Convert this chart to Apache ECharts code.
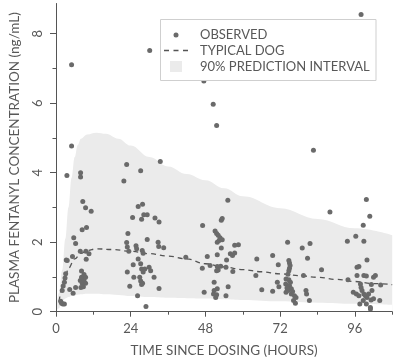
<!DOCTYPE html>
<html>
<head>
<meta charset="utf-8">
<script src="https://cdn.jsdelivr.net/npm/echarts@6/dist/echarts.min.js"></script>
<style>
html,body{margin:0;padding:0;background:#fff;}
#chart{width:400px;height:364px;}
</style>
</head>
<body>
<div id="chart"></div>
<script>
// ---------- data ----------
var xTickLabels = [0, 24, 48, 72, 96];
var xMinorTicks = [12, 36, 60, 84, 108];
var yTickLabels = [0, 2, 4, 6, 8];
var yMinorTicks = [1, 3, 5, 7];

// observed concentrations: [hours, ng/mL]
var observed = [
  [1.5,0.3],[1.8,0.24],[2.2,0.22],[2.7,0.22],[2.0,0.61],[2.3,0.74],[2.7,0.85],[2.9,0.97],[3.1,1.09],[3.3,1.49],
  [3.6,1.47],[3.5,3.92],[4.4,0.64],[5.0,4.77],[5.0,7.11],[5.3,1.59],[5.5,0.53],[5.7,2.13],[6.3,1.96],[6.3,0.7],
  [7.8,1.74],[7.8,0.9],[7.9,4.0],[7.9,3.88],[8.0,0.7],[8.2,1.17],[8.2,0.99],[8.4,2.36],[8.4,0.82],[8.6,3.17],
  [8.8,0.72],[9.0,1.07],[9.0,0.92],[9.5,2.99],[9.5,0.99],[9.5,0.82],[9.6,1.74],[9.7,1.51],[9.8,2.42],[10.6,1.67],
  [11.3,2.89],
  [21.8,3.76],[22.7,4.24],[22.7,1.99],[22.9,1.86],[22.9,1.14],[23.1,2.25],[23.4,1.74],[23.7,0.73],[24.6,2.71],
  [24.8,1.35],[25.0,0.99],[25.7,1.9],[25.9,1.81],[26.2,0.46],[26.4,3.03],[26.4,1.52],[26.9,0.99],[27.2,4.06],
  [27.2,1.38],[27.2,0.88],[27.5,2.66],[27.5,1.23],[27.5,0.78],[27.7,1.76],[27.8,3.09],[27.8,0.82],[28.0,1.68],
  [28.0,1.14],[28.2,2.79],[28.5,1.23],[28.9,0.15],[29.3,2.79],[29.3,2.08],[29.9,1.28],[30.1,7.52],[30.4,1.18],
  [31.5,0.99],[31.8,2.7],[32.8,2.0],[33.0,1.88],[33.1,2.58],[33.1,0.67],[33.5,4.32],[34.6,1.84],
  [41.7,1.57],
  [47.0,1.25],[47.1,2.48],[47.5,6.64],[47.6,0.56],[48.6,1.59],[49.5,1.33],[50.5,5.97],[50.6,0.51],[50.8,0.85],
  [50.8,0.61],[51.1,2.32],[51.3,0.41],[51.6,5.36],[51.6,2.25],[51.6,1.18],[51.6,0.49],[51.8,2.0],[51.8,1.64],
  [51.8,1.3],[51.8,0.66],[52.1,2.2],[52.1,1.2],[52.4,2.05],[52.7,2.13],[52.9,1.31],[53.1,2.63],[53.1,1.83],
  [53.4,2.68],[53.4,2.07],[54.6,1.28],[54.6,0.46],[54.8,1.49],[55.2,3.21],[55.3,0.72],[56.0,1.67],[56.7,1.62],
  [56.8,1.16],[57.4,1.91],[57.4,1.69],[58.6,1.93],
  [64.2,1.04],[64.5,1.52],[66.1,0.63],[69.6,1.62],[69.6,0.59],[71.1,0.85],[71.4,1.35],[71.6,0.72],
  [73.8,0.8],[73.9,0.94],[73.9,0.56],[74.4,2.0],[74.5,0.61],[74.8,1.47],[74.8,1.18],[74.8,0.92],[75.0,1.4],
  [75.0,1.25],[75.0,0.75],[75.2,1.33],[75.6,0.66],[75.6,0.51],[76.3,0.32],[76.6,0.46],[76.9,0.24],[77.1,0.41],
  [74.5,1.08],[75.3,0.85],[76.0,0.58],[74.2,0.68],
  [79.1,1.83],[79.5,1.04],[80.3,0.61],[80.5,0.51],[80.8,1.54],[81.4,0.32],[81.6,1.96],[82.7,4.65],[85.3,1.21],
  [88.0,2.87],
  [93.6,2.03],[93.8,0.92],[95.5,0.56],[96.3,2.17],[96.5,0.51],[96.7,1.28],[96.7,1.04],[97.3,1.3],[97.3,0.46],
  [97.6,0.22],[97.8,0.8],[98.0,0.7],[98.0,8.55],[98.3,0.61],[98.7,2.49],[98.7,0.32],[98.9,2.03],[98.9,1.04],
  [98.9,0.51],[99.4,0.46],[99.7,3.23],[99.7,1.03],[99.7,0.22],[99.9,1.49],[99.9,0.41],[100.4,0.51],[100.8,2.75],
  [101.0,0.12],[101.0,0.08],[101.2,0.34],[101.3,0.78],[101.5,0.61],[102.0,0.99],[102.0,0.37],[102.6,1.04],
  [104.0,0.32],[104.3,0.77]
];

// typical dog prediction
var typicalTime = [1,2,3,4,6,8,10,13,18,24,30,36,42,48,54,60,66,72,78,84,90,96,102,108];
var typicalConc = [0.3,0.7,1.0,1.25,1.52,1.68,1.76,1.81,1.79,1.74,1.67,1.6,1.52,1.38,1.29,1.21,1.15,1.09,1.04,0.99,0.93,0.87,0.81,0.78];

// 90% prediction interval
var bandTime  = [0,1,2,3,4,5,6,7,8,10,13,16,20,24,30,36,42,48,54,60,72,84,96,108];
var bandUpper = [0,0.55,1.2,2.1,3.0,3.85,4.45,4.8,4.98,5.1,5.15,5.12,4.98,4.78,4.45,4.18,3.96,3.78,3.55,3.32,2.98,2.67,2.4,2.2];
var bandLower = [0,0.1,0.3,0.38,0.42,0.45,0.47,0.49,0.5,0.52,0.52,0.5,0.48,0.45,0.42,0.4,0.39,0.38,0.36,0.34,0.3,0.26,0.23,0.2];

// ---------- chart ----------
function zip(a, b) { return a.map(function (v, i) { return [v, b[i]]; }); }

var FONT = 'Lato';
var TXT = '#585858';
var AX = '#555';

var chart = echarts.init(document.getElementById('chart'), null, {renderer: 'canvas'});

var axisBaseX = {
  type: 'value', min: 0, max: 108, gridIndex: 0, position: 'bottom', offset: 0,
  splitLine: {show: false}
};
var axisBaseY = {
  type: 'value', min: 0, max: 8.87, gridIndex: 0, position: 'left', offset: 0,
  splitLine: {show: false}
};

var option = {
  animation: false,
  backgroundColor: '#fff',
  textStyle: {fontFamily: FONT},
  grid: {left: 53.5, right: 7.8, top: 3.5, bottom: 52.3, containLabel: false},
  xAxis: [
    Object.assign({}, axisBaseX, {
      z: 10,
      name: 'TIME SINCE DOSING (HOURS)',
      nameLocation: 'middle',
      nameGap: 31.5,
      nameTextStyle: {fontFamily: FONT, fontSize: 13.5, color: TXT},
      axisLine: {show: true, lineStyle: {color: AX, width: 1}},
      axisTick: {show: true, customValues: xTickLabels, length: 5, lineStyle: {color: AX, width: 1}},
      axisLabel: {show: true, customValues: xTickLabels, margin: 11, fontFamily: FONT, fontSize: 13, color: TXT}
    }),
    Object.assign({}, axisBaseX, {
      z: 10,
      axisLine: {show: false},
      axisTick: {show: true, customValues: xMinorTicks, length: 3, lineStyle: {color: AX, width: 1}},
      axisLabel: {show: false}
    })
  ],
  yAxis: [
    Object.assign({}, axisBaseY, {
      z: 10,
      name: 'PLASMA FENTANYL CONCENTRATION (ng/mL)',
      nameLocation: 'middle',
      nameGap: 34,
      nameRotate: 90,
      nameTextStyle: {fontFamily: FONT, fontSize: 13.5, color: TXT},
      axisLine: {show: true, lineStyle: {color: AX, width: 1}},
      axisTick: {show: true, customValues: yTickLabels, length: 6, lineStyle: {color: AX, width: 1}},
      axisLabel: {show: true, customValues: yTickLabels, rotate: 90, margin: 12, fontFamily: FONT, fontSize: 13, color: TXT}
    }),
    Object.assign({}, axisBaseY, {
      z: 10,
      axisLine: {show: false},
      axisTick: {show: true, customValues: yMinorTicks, length: 3.5, lineStyle: {color: AX, width: 1}},
      axisLabel: {show: false}
    })
  ],
  legend: [
    {
      data: ['OBSERVED'], orient: 'vertical', left: 173.5, top: 28.5, padding: 0, z: 20,
      itemWidth: 5, itemHeight: 5, icon: 'circle',
      textStyle: {fontFamily: FONT, fontSize: 13, color: TXT, lineHeight: 12, padding: [0, 0, 0, 16.5]},
      selectedMode: false
    },
    {
      data: ['TYPICAL DOG'], orient: 'vertical', left: 164, top: 44, padding: 0, z: 20,
      itemWidth: 24, itemHeight: 1.3,
      icon: 'path://M0,0h5v1.3h-5zM9.5,0h5v1.3h-5zM19,0h5v1.3h-5z',
      itemStyle: {borderWidth: 0},
      textStyle: {fontFamily: FONT, fontSize: 13, color: TXT, lineHeight: 12, padding: [0, 0, 0, 7]},
      selectedMode: false
    },
    {
      data: ['90% PREDICTION INTERVAL'], orient: 'vertical', left: 170, top: 60, padding: 0, z: 20,
      itemWidth: 12, itemHeight: 11, icon: 'rect',
      itemStyle: {borderWidth: 0},
      textStyle: {fontFamily: FONT, fontSize: 13, color: TXT, lineHeight: 12, padding: [0, 0, 0, 13]},
      selectedMode: false
    }
  ],
  graphic: [
    {
      type: 'rect', z: 15, silent: true,
      shape: {x: 160.5, y: 19.5, width: 215.5, height: 61},
      style: {fill: '#fff', stroke: '#cfcfcf', lineWidth: 1}
    }
  ],
  series: [
    {
      name: '90% PREDICTION INTERVAL',
      type: 'line', xAxisIndex: 0, yAxisIndex: 0, z: 1,
      data: zip(bandTime, bandUpper),
      smooth: 0.4, smoothMonotone: 'x',
      symbol: 'none', color: '#ebebeb',
      lineStyle: {width: 0, color: '#ebebeb'},
      areaStyle: {color: '#ebebeb', opacity: 1},
      silent: true
    },
    {
      name: 'lower',
      type: 'line', xAxisIndex: 0, yAxisIndex: 0, z: 2,
      data: zip(bandTime, bandLower),
      smooth: 0.4, smoothMonotone: 'x',
      symbol: 'none', color: '#ffffff',
      lineStyle: {width: 0, color: '#ffffff'},
      areaStyle: {color: '#ffffff', opacity: 1},
      silent: true
    },
    {
      name: 'TYPICAL DOG',
      type: 'line', xAxisIndex: 0, yAxisIndex: 0, z: 3,
      data: zip(typicalTime, typicalConc),
      smooth: 0.4, smoothMonotone: 'x',
      symbol: 'none', color: '#555',
      lineStyle: {width: 1.3, color: '#555', type: [5, 4]},
      silent: true
    },
    {
      name: 'OBSERVED',
      type: 'scatter', xAxisIndex: 0, yAxisIndex: 0, z: 4,
      data: observed,
      symbol: 'circle', symbolSize: 5,
      color: '#6a6a6a',
      itemStyle: {color: '#6a6a6a', opacity: 1},
      silent: true
    }
  ]
};

chart.setOption(option);
</script>
</body>
</html>
